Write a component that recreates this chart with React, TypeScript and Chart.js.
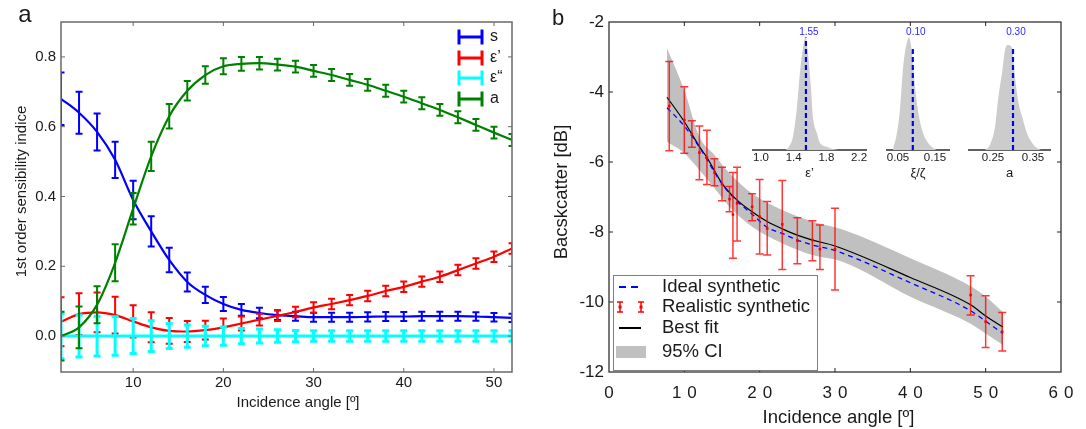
import React, { useEffect, useRef } from "react";
import { Chart, registerables } from "chart.js";

Chart.register(...registerables);

const FONT = "'Liberation Sans', Arial, Helvetica, sans-serif";
const INK = "#1a1a1a";

// ---------------- Panel a : sensitivity indices ----------------
const anglesA = [2, 4, 6, 8, 10, 12, 14, 16, 18, 20, 22, 24, 26, 28, 30, 32, 34, 36, 38, 40, 42, 44, 46, 48, 50, 52];
const sMean = [0.68, 0.64, 0.585, 0.505, 0.39, 0.3, 0.218, 0.155, 0.118, 0.092, 0.075, 0.066, 0.06, 0.057, 0.054, 0.054, 0.054, 0.055, 0.056, 0.056, 0.057, 0.057, 0.057, 0.056, 0.054, 0.052];
const sErr = [0.075, 0.06, 0.053, 0.052, 0.055, 0.043, 0.035, 0.027, 0.023, 0.02, 0.017, 0.015, 0.014, 0.013, 0.013, 0.013, 0.013, 0.013, 0.013, 0.013, 0.013, 0.013, 0.013, 0.012, 0.012, 0.012];
const epsMean = [0.041, 0.063, 0.068, 0.06, 0.042, 0.025, 0.015, 0.013, 0.017, 0.025, 0.036, 0.047, 0.058, 0.069, 0.082, 0.092, 0.103, 0.115, 0.129, 0.141, 0.156, 0.17, 0.189, 0.208, 0.227, 0.251];
const epsErr = [0.07, 0.06, 0.057, 0.053, 0.046, 0.043, 0.037, 0.03, 0.027, 0.025, 0.02, 0.017, 0.015, 0.015, 0.015, 0.015, 0.015, 0.015, 0.015, 0.015, 0.015, 0.015, 0.015, 0.015, 0.015, 0.015];
const eps2Mean = [0, 0, 0, 0, 0, 0, 0, 0, 0, 0, 0, 0, 0, 0, 0, 0, 0, 0, 0, 0, 0, 0, 0, 0, 0, 0];
const eps2Err = [0.065, 0.06, 0.057, 0.055, 0.05, 0.044, 0.036, 0.032, 0.028, 0.026, 0.022, 0.02, 0.018, 0.016, 0.015, 0.015, 0.015, 0.015, 0.015, 0.015, 0.015, 0.015, 0.015, 0.015, 0.015, 0.015];
const aMean = [0.0, 0.025, 0.09, 0.21, 0.365, 0.515, 0.63, 0.703, 0.748, 0.773, 0.78, 0.782, 0.778, 0.772, 0.76, 0.748, 0.734, 0.72, 0.703, 0.686, 0.667, 0.648, 0.627, 0.605, 0.583, 0.562];
const aErr = [0.07, 0.06, 0.053, 0.053, 0.045, 0.042, 0.035, 0.028, 0.025, 0.023, 0.02, 0.018, 0.017, 0.017, 0.017, 0.017, 0.017, 0.017, 0.017, 0.017, 0.017, 0.017, 0.017, 0.017, 0.017, 0.017];
const seriesALabels = ["s", "ε’", "ε“", "a"];
const ticksAX = [10, 20, 30, 40, 50];
const ticksAY = [0, 0.2, 0.4, 0.6, 0.8];

// ---------------- Panel b : backscatter ----------------
const bandX = [7.7, 10, 12, 14, 16, 19, 23, 27, 31, 40, 48, 50, 52.3];
const bandUpper = [-2.75, -3.95, -5.28, -5.8, -6.32, -6.9, -7.37, -7.7, -7.93, -8.75, -9.55, -9.85, -10.29];
const bandLower = [-5.42, -5.75, -6.23, -6.75, -7.28, -7.85, -8.32, -8.66, -8.85, -9.85, -10.62, -10.9, -11.23];
const fitX = [7.7, 10, 12, 13, 15, 17, 19, 21, 23, 25, 27, 30, 40, 48, 50, 52.3];
const fitY = [-4.15, -4.85, -5.56, -5.87, -6.61, -7.09, -7.42, -7.7, -7.91, -8.09, -8.23, -8.4, -9.3, -10.08, -10.4, -10.72];
const idealX = [7.7, 10, 12, 15, 17, 19, 21, 23, 25, 27, 30, 40, 48, 50, 52.3];
const idealY = [-4.45, -4.97, -5.58, -6.62, -7.12, -7.49, -7.87, -8.04, -8.23, -8.37, -8.53, -9.45, -10.25, -10.55, -10.9];
const obsX = [8.0, 10, 11, 12, 13, 14, 15, 16, 16.45, 17, 19, 20, 21, 23, 25, 27, 28, 30, 48, 50, 52.2];
const obsY = [-4.4, -4.8, -5.2, -5.73, -5.87, -6.3, -6.63, -7.06, -7.5, -7.18, -7.28, -7.56, -7.9, -7.78, -8.25, -8.23, -8.49, -8.49, -9.8, -10.56, -10.85];
const obsHi = [-3.13, -3.85, -4.82, -4.97, -5.09, -5.91, -6.15, -6.7, -6.3, -6.15, -6.91, -6.5, -7.13, -6.53, -7.59, -7.68, -7.8, -7.32, -9.25, -9.82, -10.3];
const obsLo = [-5.68, -5.75, -5.58, -6.51, -6.64, -6.68, -7.11, -7.42, -8.75, -8.26, -7.68, -8.63, -8.66, -9.07, -8.91, -8.82, -9.07, -9.66, -10.37, -11.3, -11.4];
const legendBLabels = ["Ideal synthetic", "Realistic synthetic", "Best fit", "95% CI"];
const ticksBX = [0, 10, 20, 30, 40, 50, 60];
const ticksBY = [-12, -10, -8, -6, -4, -2];

// ---------------- Insets : posterior histograms ----------------
const inset1X = [1.3, 1.34, 1.39, 1.44, 1.48, 1.51, 1.545, 1.575, 1.61, 1.635, 1.685, 1.72, 1.81, 1.88, 1.95];
const inset1H = [0, 0.03, 0.125, 0.41, 0.77, 0.96, 1.08, 0.93, 0.61, 0.32, 0.16, 0.07, 0.03, 0.01, 0];
const inset2X = [0.036, 0.047, 0.055, 0.064, 0.074, 0.08, 0.088, 0.096, 0.104, 0.117, 0.131, 0.145, 0.155];
const inset2H = [0, 0.16, 0.38, 0.8, 1.03, 1.08, 0.93, 0.61, 0.38, 0.17, 0.07, 0.02, 0];
const inset3X = [0.23, 0.2425, 0.255, 0.2625, 0.2725, 0.28, 0.2875, 0.2975, 0.305, 0.3125, 0.325, 0.335, 0.3475, 0.36, 0.37];
const inset3H = [0, 0.05, 0.22, 0.48, 0.74, 0.96, 1.01, 0.98, 0.7, 0.48, 0.29, 0.16, 0.07, 0.02, 0];
const insetTrue = [1.55, 0.09, 0.3];
const insetTrueLabels = ["1.55", "0.10", "0.30"];
const insetDashTop = [1.08, 1.0, 1.0];
const insetTicks1 = [1.0, 1.4, 1.8, 2.2];
const insetTicks2 = [0.05, 0.15];
const insetTicks3 = [0.25, 0.35];
const insetTitles = ["ε’", "ξ/ζ", "a"];

const pts = (xs: number[], ys: number[]) => xs.map((x, i) => ({ x, y: ys[i] }));

// ---------------- plugins ----------------
const framePlugin: any = {
  id: "frame",
  afterDraw(chart: any, _a: any, o: any) {
    const { ctx, chartArea: a } = chart;
    const xs = chart.scales.x, ys = chart.scales.y;
    ctx.save();
    ctx.strokeStyle = o.color;
    ctx.lineWidth = o.width;
    ctx.strokeRect(a.left, a.top, a.right - a.left, a.bottom - a.top);
    ctx.lineWidth = o.tickWidth;
    ctx.beginPath();
    for (const t of xs.ticks) {
      const p = xs.getPixelForValue(t.value);
      if (p <= a.left + 0.5 || p >= a.right - 0.5) continue;
      ctx.moveTo(p, a.bottom); ctx.lineTo(p, a.bottom - o.len);
      ctx.moveTo(p, a.top); ctx.lineTo(p, a.top + o.len);
    }
    for (const t of ys.ticks) {
      const p = ys.getPixelForValue(t.value);
      if (p <= a.top + 0.5 || p >= a.bottom - 0.5) continue;
      ctx.moveTo(a.left, p); ctx.lineTo(a.left + o.len, p);
      ctx.moveTo(a.right, p); ctx.lineTo(a.right - o.len, p);
    }
    ctx.stroke();
    ctx.restore();
  },
};

const errorBarPlugin: any = {
  id: "errorBars",
  afterDatasetDraw(chart: any, args: any) {
    const ds = chart.data.datasets[args.index];
    if (!ds.errHi) return;
    const { ctx, chartArea: a } = chart;
    const xs = chart.scales.x, ys = chart.scales.y;
    ctx.save();
    ctx.beginPath();
    ctx.rect(a.left, a.top, a.right - a.left, a.bottom - a.top);
    ctx.clip();
    ctx.strokeStyle = ds.errColor;
    ctx.lineWidth = ds.errWidth;
    ctx.beginPath();
    ds.data.forEach((d: any, i: number) => {
      const px = xs.getPixelForValue(d.x);
      const hi = ys.getPixelForValue(ds.errHi[i]);
      const lo = ys.getPixelForValue(ds.errLo[i]);
      const c = ds.capHalf;
      ctx.moveTo(px, hi); ctx.lineTo(px, lo);
      ctx.moveTo(px - c, hi); ctx.lineTo(px + c, hi);
      ctx.moveTo(px - c, lo); ctx.lineTo(px + c, lo);
    });
    ctx.stroke();
    ctx.restore();
  },
};

const textPlugin: any = {
  id: "texts",
  afterDraw(chart: any, _a: any, o: any) {
    const ctx = chart.ctx;
    for (const t of o.items) {
      ctx.save();
      ctx.font = `${t.size}px ${FONT}`;
      ctx.fillStyle = INK;
      ctx.textAlign = "center";
      ctx.textBaseline = "alphabetic";
      ctx.translate(t.x, t.y);
      if (t.rotate) ctx.rotate(-Math.PI / 2);
      ctx.fillText(t.text, 0, 0);
      ctx.restore();
    }
  },
};

const spacedTicksPlugin: any = {
  id: "spacedTicks",
  afterDraw(chart: any, _a: any, o: any) {
    const ctx = chart.ctx;
    const xs = chart.scales.x;
    ctx.save();
    ctx.font = `${o.size}px ${FONT}`;
    ctx.fillStyle = INK;
    ctx.textAlign = "left";
    ctx.textBaseline = "alphabetic";
    for (const t of xs.ticks) {
      const s = String(t.value);
      const chars = s.split("");
      const w = chars.map((c: string) => ctx.measureText(c).width);
      const total = w.reduce((p: number, q: number) => p + q, 0) + o.gap * (chars.length - 1);
      let x = xs.getPixelForValue(t.value) - total / 2;
      chars.forEach((c: string, i: number) => {
        ctx.fillText(c, x, o.y);
        x += w[i] + o.gap;
      });
    }
    ctx.restore();
  },
};

const legendAPlugin: any = {
  id: "legendA",
  afterDraw(chart: any, _a: any, o: any) {
    const ctx = chart.ctx;
    chart.data.datasets.forEach((ds: any, i: number) => {
      const y = o.rows[i];
      ctx.save();
      ctx.strokeStyle = ds.borderColor;
      ctx.lineWidth = 3;
      ctx.beginPath();
      ctx.moveTo(o.x0, y); ctx.lineTo(o.x1, y);
      ctx.moveTo(o.x0, y - o.cap); ctx.lineTo(o.x0, y + o.cap);
      ctx.moveTo(o.x1, y - o.cap); ctx.lineTo(o.x1, y + o.cap);
      ctx.stroke();
      ctx.font = `${o.size}px ${FONT}`;
      ctx.fillStyle = INK;
      ctx.textAlign = "left";
      ctx.textBaseline = "middle";
      ctx.fillText(ds.label, o.textX, y);
      ctx.restore();
    });
  },
};

const legendBPlugin: any = {
  id: "legendB",
  afterDraw(chart: any, _a: any, o: any) {
    const ctx = chart.ctx;
    const b = o.box;
    ctx.save();
    ctx.fillStyle = "#ffffff";
    ctx.fillRect(b.x, b.y, b.w, b.h);
    ctx.strokeStyle = "#808080";
    ctx.lineWidth = 1;
    ctx.strokeRect(b.x + 0.5, b.y + 0.5, b.w, b.h);
    const [r0, r1, r2, r3] = o.rows;
    // ideal synthetic
    ctx.strokeStyle = "#0000ff";
    ctx.lineWidth = 2;
    ctx.setLineDash([7, 5]);
    ctx.beginPath(); ctx.moveTo(o.x0, r0); ctx.lineTo(o.x1 + 2, r0); ctx.stroke();
    ctx.setLineDash([]);
    // realistic synthetic
    ctx.strokeStyle = "#ff0000";
    ctx.lineWidth = 1.5;
    for (const x of [o.x0 + 1, o.x1]) {
      ctx.beginPath();
      ctx.moveTo(x, r1 - 5); ctx.lineTo(x, r1 + 5);
      ctx.moveTo(x - 3, r1 - 5); ctx.lineTo(x + 3, r1 - 5);
      ctx.moveTo(x - 3, r1 + 5); ctx.lineTo(x + 3, r1 + 5);
      ctx.stroke();
      ctx.fillStyle = "#ff0000";
      ctx.fillRect(x - 1.5, r1 - 1.5, 3, 3);
    }
    // best fit
    ctx.strokeStyle = "#000000";
    ctx.lineWidth = 2;
    ctx.beginPath(); ctx.moveTo(o.x0, r2); ctx.lineTo(o.x1, r2); ctx.stroke();
    // CI
    ctx.fillStyle = "#c0c0c0";
    ctx.fillRect(o.x0 - 3, r3 - 6, 30, 12);
    ctx.font = `${o.size}px ${FONT}`;
    ctx.fillStyle = INK;
    ctx.textAlign = "left";
    ctx.textBaseline = "middle";
    o.labels.forEach((l: string, i: number) => ctx.fillText(l, o.textX, o.rows[i]));
    ctx.restore();
  },
};

const valueLabelPlugin: any = {
  id: "valueLabel",
  afterDraw(chart: any, _a: any, o: any) {
    const ctx = chart.ctx;
    const px = chart.scales.x.getPixelForValue(o.value);
    ctx.save();
    ctx.font = `10px ${FONT}`;
    ctx.fillStyle = "#2a2aff";
    ctx.textAlign = "center";
    ctx.textBaseline = "middle";
    ctx.fillText(o.text, px + 3, o.y);
    ctx.restore();
  },
};

const fixedTicks = (arr: number[]) => (s: any) => {
  s.ticks = arr.map((v) => ({ value: v }));
};

// ---------------- configs ----------------
function makeA(): any {
  const mk = (label: string, mean: number[], err: number[], color: string, order: number, w: number, ew: number) => ({
    label,
    data: pts(anglesA, mean),
    borderColor: color,
    backgroundColor: color,
    borderWidth: w,
    pointRadius: 0,
    fill: false,
    cubicInterpolationMode: "monotone",
    order,
    errHi: mean.map((m, i) => m + err[i]),
    errLo: mean.map((m, i) => m - err[i]),
    errColor: color,
    errWidth: ew,
    capHalf: 3.5,
  });
  return {
    type: "line",
    data: {
      datasets: [
        mk(seriesALabels[0], sMean, sErr, "#0000ff", 3, 2.2, 2),
        mk(seriesALabels[1], epsMean, epsErr, "#ff0000", 2, 2.2, 2),
        mk(seriesALabels[2], eps2Mean, eps2Err, "#00ffff", 1, 3, 3),
        mk(seriesALabels[3], aMean, aErr, "#008000", 0, 2.2, 2),
      ],
    },
    options: {
      responsive: false,
      animation: false,
      events: [],
      layout: { padding: { left: 0, top: 22, right: 31, bottom: 0 } },
      plugins: {
        legend: { display: false },
        tooltip: { enabled: false },
        frame: { color: "#6a6a6a", width: 1.5, tickWidth: 1, len: 4 },
        legendA: { rows: [37, 58, 78, 99], x0: 459, x1: 482, cap: 7.5, textX: 490, size: 16 },
        texts: {
          items: [
            { text: "a", x: 25, y: 22, size: 24 },
            { text: "Incidence angle [º]", x: 298, y: 407, size: 15 },
            { text: "1st order sensibility indice", x: 26, y: 191.5, size: 15, rotate: true },
          ],
        },
      },
      scales: {
        x: {
          type: "linear",
          min: 2,
          max: 52,
          afterBuildTicks: fixedTicks(ticksAX),
          afterFit: (s: any) => { s.height = 57; },
          grid: { display: false, drawTicks: false },
          border: { display: false },
          ticks: { padding: 2, color: INK, font: { family: FONT, size: 15 } },
        },
        y: {
          min: -0.103,
          max: 0.9,
          afterBuildTicks: fixedTicks(ticksAY),
          afterFit: (s: any) => { s.width = 61; },
          grid: { display: false, drawTicks: false },
          border: { display: false },
          ticks: { padding: 5, color: INK, font: { family: FONT, size: 15 }, callback: (v: any) => Number(v).toFixed(1) },
        },
      },
    },
    plugins: [errorBarPlugin, framePlugin, legendAPlugin, textPlugin],
  };
}

function makeB(): any {
  return {
    type: "line",
    data: {
      datasets: [
        { label: "ciLow", data: pts(bandX, bandLower), borderColor: "rgba(0,0,0,0)", borderWidth: 0, pointRadius: 0, fill: false, cubicInterpolationMode: "monotone", order: 5 },
        { label: legendBLabels[3], data: pts(bandX, bandUpper), borderColor: "rgba(0,0,0,0)", borderWidth: 0, pointRadius: 0, fill: "-1", backgroundColor: "#c0c0c0", cubicInterpolationMode: "monotone", order: 4 },
        { label: legendBLabels[2], data: pts(fitX, fitY), borderColor: "#000000", borderWidth: 1.2, pointRadius: 0, fill: false, cubicInterpolationMode: "monotone", order: 2 },
        { label: legendBLabels[0], data: pts(idealX, idealY), borderColor: "#0000ff", borderWidth: 1.3, borderDash: [5, 4], pointRadius: 0, fill: false, cubicInterpolationMode: "monotone", order: 1 },
        {
          label: legendBLabels[1], data: pts(obsX, obsY), showLine: false, pointRadius: 1.8, pointStyle: "rect",
          backgroundColor: "#ff0000", borderColor: "#ff0000", borderWidth: 0, order: 0,
          errHi: obsHi, errLo: obsLo, errColor: "rgba(255,0,0,0.78)", errWidth: 1.5, capHalf: 4,
        },
      ],
    },
    options: {
      responsive: false,
      animation: false,
      events: [],
      layout: { padding: { left: 0, top: 22, right: 25, bottom: 0 } },
      plugins: {
        legend: { display: false },
        tooltip: { enabled: false },
        frame: { color: "#222222", width: 1.2, tickWidth: 1, len: 4 },
        spacedTicks: { size: 17, gap: 6, y: 398 },
        legendB: { box: { x: 70, y: 275, w: 204, h: 95 }, rows: [287, 307, 328, 352], x0: 76, x1: 98, textX: 119, size: 18.5, labels: legendBLabels },
        texts: {
          items: [
            { text: "b", x: 15, y: 25, size: 22 },
            { text: "Incidence angle [º]", x: 295.5, y: 423, size: 18.5 },
            { text: "Bacskcatter [dB]", x: 24, y: 192, size: 18.5, rotate: true },
          ],
        },
      },
      scales: {
        x: {
          type: "linear",
          min: 0,
          max: 60,
          afterBuildTicks: fixedTicks(ticksBX),
          afterFit: (s: any) => { s.height = 57; },
          grid: { display: false, drawTicks: false },
          border: { display: false },
          ticks: { display: false },
        },
        y: {
          min: -12,
          max: -2,
          afterBuildTicks: fixedTicks(ticksBY),
          afterFit: (s: any) => { s.width = 66; },
          grid: { display: false, drawTicks: false },
          border: { display: false },
          ticks: { padding: 5, color: INK, font: { family: FONT, size: 17 }, callback: (v: any) => String(v) },
        },
      },
    },
    plugins: [errorBarPlugin, framePlugin, legendBPlugin, spacedTicksPlugin, textPlugin],
  };
}

function makeInset(xs: number[], hs: number[], k: number, min: number, max: number, ticks: number[], dec: number, padL: number, padR: number): any {
  return {
    type: "line",
    data: {
      datasets: [
        { data: [{ x: insetTrue[k], y: 0 }, { x: insetTrue[k], y: insetDashTop[k] }], borderColor: "#0000ff", borderWidth: 2.2, borderDash: [5, 3], pointRadius: 0, fill: false, order: 0 },
        { data: pts(xs, hs), borderColor: "rgba(0,0,0,0)", borderWidth: 0, pointRadius: 0, fill: "origin", backgroundColor: "#cccccc", cubicInterpolationMode: "monotone", order: 1 },
      ],
    },
    options: {
      responsive: false,
      animation: false,
      events: [],
      layout: { padding: { left: padL, right: padR, top: 0, bottom: 0 } },
      plugins: {
        legend: { display: false },
        tooltip: { enabled: false },
        valueLabel: { value: insetTrue[k], text: insetTrueLabels[k], y: 10 },
      },
      scales: {
        x: {
          type: "linear",
          min,
          max,
          afterBuildTicks: fixedTicks(ticks),
          afterFit: (s: any) => { s.height = 37; },
          grid: { display: false, drawTicks: false },
          border: { display: true, color: "#606060", width: 2 },
          ticks: { padding: 1, color: INK, font: { family: FONT, size: 11.5 }, callback: (v: any) => Number(v).toFixed(dec) },
          title: { display: true, text: insetTitles[k], color: INK, font: { family: FONT, size: 13 }, padding: { top: 0, bottom: 6 } },
        },
        y: { display: false, min: 0, max: 1.23 },
      },
    },
    plugins: [valueLabelPlugin],
  };
}

export default function App() {
  const aRef = useRef<HTMLCanvasElement>(null);
  const bRef = useRef<HTMLCanvasElement>(null);
  const i1 = useRef<HTMLCanvasElement>(null);
  const i2 = useRef<HTMLCanvasElement>(null);
  const i3 = useRef<HTMLCanvasElement>(null);

  useEffect(() => {
    const charts = [
      new Chart(aRef.current!, makeA()),
      new Chart(bRef.current!, makeB()),
      new Chart(i1.current!, makeInset(inset1X, inset1H, 0, 0.902, 2.285, insetTicks1, 1, 8, 9)),
      new Chart(i2.current!, makeInset(inset2X, inset2H, 1, 0.0203, 0.1878, insetTicks2, 2, 9, 9)),
      new Chart(i3.current!, makeInset(inset3X, inset3H, 2, 0.19, 0.3925, insetTicks3, 2, 9, 8)),
    ];
    return () => charts.forEach((c) => c.destroy());
  }, []);

  const abs = (left: number, top: number, w: number, h: number): React.CSSProperties => ({
    position: "absolute", left, top, width: w, height: h,
  });

  return (
    <div style={{ position: "absolute", left: 0, top: 0, width: 1086, height: 429, background: "#ffffff", overflow: "hidden" }}>
      <canvas ref={aRef} width={543} height={429} style={abs(0, 0, 543, 429)} />
      <canvas ref={bRef} width={543} height={429} style={abs(543, 0, 543, 429)} />
      <canvas ref={i1} width={130} height={165} style={abs(745, 22, 130, 165)} />
      <canvas ref={i2} width={80} height={165} style={abs(878, 22, 80, 165)} />
      <canvas ref={i3} width={98} height={165} style={abs(960, 22, 98, 165)} />
    </div>
  );
}
